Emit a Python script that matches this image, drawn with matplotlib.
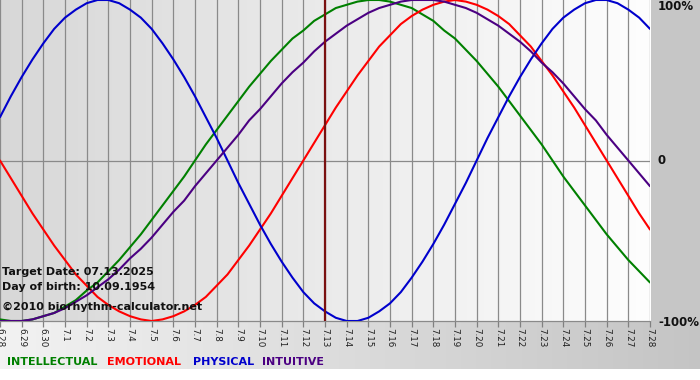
import numpy as np
import matplotlib
matplotlib.use("Agg")
import matplotlib.pyplot as plt

# ---- data ----
dates = ["6.28", "6.29", "6.30", "7.1", "7.2", "7.3", "7.4", "7.5", "7.6", "7.7",
         "7.8", "7.9", "7.10", "7.11", "7.12", "7.13", "7.14", "7.15", "7.16", "7.17",
         "7.18", "7.19", "7.20", "7.21", "7.22", "7.23", "7.24", "7.25", "7.26", "7.27", "7.28"]

# values read every half day, from 6.28 to 7.28
intellectual = [-0.99, -1.00, -1.00, -0.99, -0.97, -0.95, -0.91, -0.87, -0.81, -0.76,
                -0.69, -0.62, -0.54, -0.46, -0.37, -0.28, -0.19, -0.10, 0.00, 0.10,
                0.19, 0.28, 0.37, 0.46, 0.54, 0.62, 0.69, 0.76, 0.81, 0.87,
                0.91, 0.95, 0.97, 0.99, 1.00, 1.00, 0.99, 0.97, 0.95, 0.91,
                0.87, 0.81, 0.76, 0.69, 0.62, 0.54, 0.46, 0.37, 0.28, 0.19,
                0.10, 0.00, -0.10, -0.19, -0.28, -0.37, -0.46, -0.54, -0.62, -0.69, -0.76]
emotional = [0.00, -0.11, -0.22, -0.33, -0.43, -0.53, -0.62, -0.71, -0.78, -0.85,
             -0.90, -0.94, -0.97, -0.99, -1.00, -0.99, -0.97, -0.94, -0.90, -0.85,
             -0.78, -0.71, -0.62, -0.53, -0.43, -0.33, -0.22, -0.11, 0.00, 0.11,
             0.22, 0.33, 0.43, 0.53, 0.62, 0.71, 0.78, 0.85, 0.90, 0.94,
             0.97, 0.99, 1.00, 0.99, 0.97, 0.94, 0.90, 0.85, 0.78, 0.71,
             0.62, 0.53, 0.43, 0.33, 0.22, 0.11, 0.00, -0.11, -0.22, -0.33, -0.43]
physical = [0.27, 0.40, 0.52, 0.63, 0.73, 0.82, 0.89, 0.94, 0.98, 1.00,
            1.00, 0.98, 0.94, 0.89, 0.82, 0.73, 0.63, 0.52, 0.40, 0.27,
            0.14, 0.00, -0.14, -0.27, -0.40, -0.52, -0.63, -0.73, -0.82, -0.89,
            -0.94, -0.98, -1.00, -1.00, -0.98, -0.94, -0.89, -0.82, -0.73, -0.63,
            -0.52, -0.40, -0.27, -0.14, 0.00, 0.14, 0.27, 0.40, 0.52, 0.63,
            0.73, 0.82, 0.89, 0.94, 0.98, 1.00, 1.00, 0.98, 0.94, 0.89, 0.82]
intuitive = [-1.00, -1.00, -1.00, -0.99, -0.97, -0.95, -0.92, -0.88, -0.84, -0.79,
             -0.74, -0.68, -0.61, -0.55, -0.48, -0.40, -0.32, -0.25, -0.16, -0.08,
             0.00, 0.08, 0.16, 0.25, 0.32, 0.40, 0.48, 0.55, 0.61, 0.68,
             0.74, 0.79, 0.84, 0.88, 0.92, 0.95, 0.97, 0.99, 1.00, 1.00,
             1.00, 0.99, 0.97, 0.95, 0.92, 0.88, 0.84, 0.79, 0.74, 0.68,
             0.61, 0.55, 0.48, 0.40, 0.32, 0.25, 0.16, 0.08, 0.00, -0.08, -0.16]

target_date = "7.13"
y_labels = ["100%", "0", "-100%"]
legend_names = ["INTELLECTUAL", "EMOTIONAL", "PHYSICAL", "INTUITIVE"]
info_lines = ["Target Date: 07.13.2025", "Day of birth: 10.09.1954",
              "\u00a92010 biorhythm-calculator.net"]

# ---- styles ----
W, H = 700, 380
colors = {"INTELLECTUAL": "#008000", "EMOTIONAL": "#ff0000",
          "PHYSICAL": "#0000cc", "INTUITIVE": "#4b0082"}
series = {"INTELLECTUAL": intellectual, "EMOTIONAL": emotional,
          "PHYSICAL": physical, "INTUITIVE": intuitive}

fig = plt.figure(figsize=(W / 100, H / 100), dpi=100)
fig.patch.set_facecolor("white")

# background canvas in pixel coordinates
bg = fig.add_axes([0, 0, 1, 1])
bg.set_xlim(0, W)
bg.set_ylim(H, 0)
bg.axis("off")
bg.set_zorder(0)
plot_right = 651
plot_bottom = 321
bg.add_patch(plt.Rectangle((plot_right, 0), W - plot_right, plot_bottom,
                           color="#c6c6c6", lw=0))
grad = np.linspace(0.95, 0.77, 256)[None, :]
bg.imshow(np.dstack([grad, grad, grad]), extent=(0, W, 369, plot_bottom),
          aspect="auto", interpolation="bilinear")

# main axes
n_days = len(dates)
x = np.arange(n_days)
xs = np.arange(len(physical)) * 0.5
ax = fig.add_axes([0, 1 - plot_bottom / H, 650 / W, plot_bottom / H])
ax.set_zorder(1)
ax.patch.set_alpha(0)
ax.set_xlim(0, n_days - 1)
ax.set_ylim(-1.0, 1.0)
g2 = np.linspace(0.845, 0.995, 256)[None, :]
ax.imshow(np.dstack([g2, g2, g2]), extent=(0, n_days - 1, -1, 1),
          aspect="auto", interpolation="bilinear", zorder=0)

for xi in x:
    ax.axvline(xi, color="#8a8a8a", lw=0.9, zorder=1)
ax.axhline(0, color="#8a8a8a", lw=0.9, zorder=1)

for name in legend_names:
    ax.plot(xs, series[name], color=colors[name], lw=1.5, zorder=3,
            solid_joinstyle="round", solid_capstyle="round")

ax.axvline(dates.index(target_date), color="#7a1010", lw=1.6, zorder=4)

for s in ["top", "left", "right"]:
    ax.spines[s].set_visible(False)
ax.spines["bottom"].set_color("#8a8a8a")
ax.spines["bottom"].set_linewidth(0.9)
ax.set_xticks(x)
ax.set_xticklabels(dates, rotation=270, fontsize=6.3, color="#202020")
ax.tick_params(axis="x", length=4, width=0.9, color="#808080", pad=1)
ax.set_yticks([])

# right labels (pixel coords on background canvas, drawn on top)
lab_ax = fig.add_axes([0, 0, 1, 1])
lab_ax.set_xlim(0, W)
lab_ax.set_ylim(H, 0)
lab_ax.axis("off")
lab_ax.set_zorder(2)
for lab, yp in zip(y_labels, [7, 161, 322]):
    lab_ax.text(658, yp, lab, ha="left", va="center", fontsize=8.5,
                fontweight="bold", color="#111111")

# info texts
for txt, yp in zip(info_lines, [272, 287, 307]):
    lab_ax.text(2, yp, txt, fontsize=8, fontweight="bold", color="#111111",
                ha="left", va="center")

# legend
for name, xp in zip(legend_names, [7, 107, 193, 262]):
    lab_ax.text(xp, 362, name, fontsize=8, fontweight="bold", color=colors[name],
                ha="left", va="center")

fig.savefig("out.png", dpi=100)
